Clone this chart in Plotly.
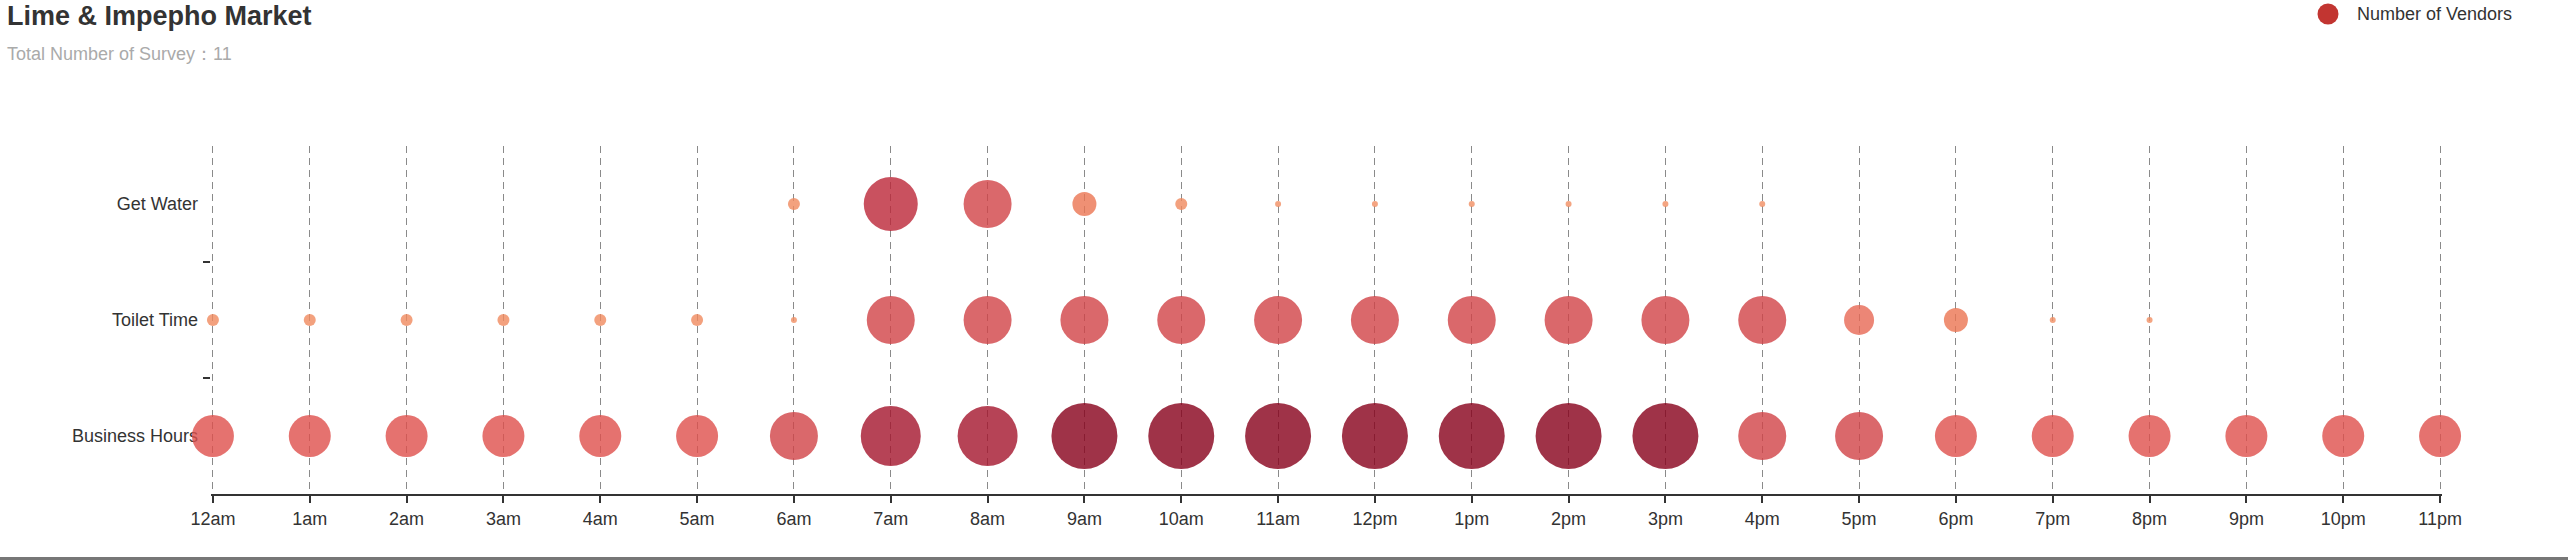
import plotly.graph_objects as go

############################################ DATA
hours = ['12am', '1am', '2am', '3am', '4am', '5am', '6am', '7am', '8am', '9am', '10am', '11am',
         '12pm', '1pm', '2pm', '3pm', '4pm', '5pm', '6pm', '7pm', '8pm', '9pm', '10pm', '11pm']
activities = ['Business Hours', 'Toilet Time', 'Get Water']

business_hours = [7, 7, 7, 7, 7, 7, 8, 10, 10, 11, 11, 11, 11, 11, 11, 11, 8, 8, 7, 7, 7, 7, 7, 7]
toilet_time = [2, 2, 2, 2, 2, 2, 1, 8, 8, 8, 8, 8, 8, 8, 8, 8, 8, 5, 4, 1, 1, 0, 0, 0]
get_water = [0, 0, 0, 0, 0, 0, 2, 9, 8, 4, 2, 1, 1, 1, 1, 1, 1, 0, 0, 0, 0, 0, 0, 0]

total_surveys = 11

############################################ LAYOUT HELPERS
# the body margin is removed after plotting, so figure pixels == page pixels
W, H = 2568, 560
L, R, T, B = 211, W - 2442, 146, H - 494
pw, ph = W - L - R, H - T - B
font = 'Liberation Sans, Arial, Helvetica, sans-serif'
pad = 0.02  # keeps the edge grid lines (12am, 11pm) from being dropped

def paper_x(px):
    """page pixel -> paper x"""
    return (px - L) / pw

def paper_y(py):
    """page pixel (from top) -> paper y"""
    return (H - B - py) / ph

# value 1 -> light salmon, value 11 -> deep red (drawn at 0.8 opacity)
scale = [[0.0, '#f18f63'], [0.1, '#f08a5e'], [0.3, '#eb7451'], [0.4, '#e76854'],
         [0.6, '#de4f4b'], [0.7, '#d14246'], [0.8, '#bb2637'], [0.9, '#a4142c'], [1.0, '#87001a']]

############################################ FIGURE
fig = go.Figure()
for name, vals in zip(activities, [business_hours, toilet_time, get_water]):
    fig.add_trace(go.Scatter(x = list(range(len(hours))), y = [name] * len(hours),
                             mode = 'markers', name = name, showlegend = False,
                             cliponaxis = False,
                             customdata = hours,
                             hovertemplate = '%{customdata}: %{marker.size}<extra>' + name + '</extra>',
                             marker = dict(size = vals, sizemode = 'diameter', sizeref = 1 / 6,
                                           color = vals, colorscale = scale, cmin = 1, cmax = 11,
                                           opacity = 0.8, line = dict(width = 0))))

fig.update_layout(width = W, height = H, plot_bgcolor = 'white', paper_bgcolor = 'white',
                  margin = dict(l = L, r = R, t = T, b = B),
                  font = dict(family = font, size = 18, color = '#333'),
                  title = dict(text = '<b>Lime & Impepho Market</b>', x = 7 / W, xanchor = 'left',
                               xref = 'container', y = 1 - 16 / H, yanchor = 'middle',
                               font = dict(family = font, size = 27, color = '#333')))

fig.update_xaxes(range = [-pad, len(hours) - 1 + pad], tickvals = list(range(len(hours))), ticktext = hours,
                 showgrid = True, gridcolor = '#8a8a8a', gridwidth = 1.3, griddash = '7px,5px',
                 zeroline = False, showline = True, linecolor = '#333', linewidth = 2,
                 ticks = 'outside', ticklen = 7, tickwidth = 1.5, tickcolor = '#333',
                 tickfont = dict(size = 18, color = '#333'))
fig.update_yaxes(type = 'category', categoryorder = 'array', categoryarray = activities,
                 range = [-0.5, len(activities) - 0.5], showgrid = False, zeroline = False,
                 showline = False, ticks = '', ticklabelstandoff = 12, layer = 'below traces',
                 minor = dict(tickvals = [0.5, 1.5], ticks = 'outside', ticklen = 7,
                              tickwidth = 1.5, tickcolor = '#333', showgrid = False),
                 tickfont = dict(size = 18, color = '#333'))

# subtitle
fig.add_annotation(text = 'Total Number of Survey：' + str(total_surveys), xref = 'paper', yref = 'paper',
                   x = paper_x(5), y = paper_y(54), xanchor = 'left', yanchor = 'middle',
                   showarrow = False, font = dict(size = 18, color = '#aaa'))

# legend item
fig.add_shape(type = 'circle', xref = 'paper', yref = 'paper', xsizemode = 'pixel', ysizemode = 'pixel',
              xanchor = paper_x(2328), yanchor = paper_y(14), x0 = -10.5, x1 = 10.5, y0 = -10.5, y1 = 10.5,
              fillcolor = '#c23531', line = dict(width = 0))
fig.add_annotation(text = 'Number of Vendors', xref = 'paper', yref = 'paper',
                   x = paper_x(2355), y = paper_y(14), xanchor = 'left', yanchor = 'middle',
                   showarrow = False, font = dict(size = 18, color = '#333'))

# window border at the bottom
fig.add_shape(type = 'line', xref = 'paper', yref = 'paper', x0 = paper_x(0), x1 = paper_x(W),
              y0 = paper_y(558.5), y1 = paper_y(558.5), line = dict(color = '#777', width = 3))

fig.write_html('out.html', config = {'displayModeBar': False},
               post_script = "document.body.style.margin = '0px';")
